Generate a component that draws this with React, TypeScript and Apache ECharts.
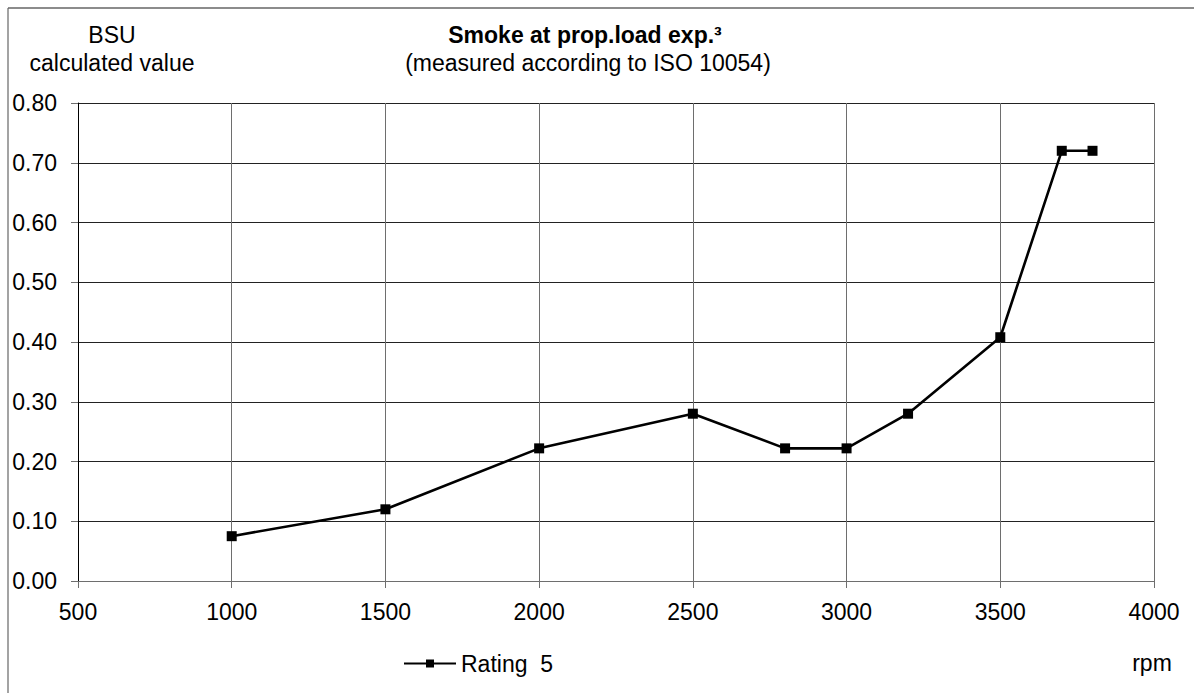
import React, { useEffect, useRef } from "react";
import * as echarts from "echarts";

const rpm = [1000, 1500, 2000, 2500, 2800, 3000, 3200, 3500, 3700, 3800];
const bsu = [0.075, 0.12, 0.222, 0.28, 0.222, 0.222, 0.28, 0.408, 0.72, 0.72];
const seriesName = "Rating  5";
const titleText = "Smoke at prop.load exp.³";
const subtitleText = "(measured according to ISO 10054)";
const yUnitLines = ["BSU", "calculated value"];
const xUnit = "rpm";

const FONT = '"Liberation Sans", Arial, sans-serif';
const FS = 23;
const GRID_COLOR = "#6e6e6e";

export default function App() {
  const ref = useRef<HTMLDivElement>(null);
  useEffect(() => {
    if (!ref.current) return;
    const chart = echarts.init(ref.current, undefined, { renderer: "svg" });
    const txt = (text: string, x: number, y: number, align: string, bold = false) => ({
      type: "text",
      x,
      y,
      style: {
        text,
        fill: "#000",
        font: `${bold ? "bold " : ""}${FS}px ${FONT}`,
        textAlign: align,
        textVerticalAlign: "middle",
      },
    });
    chart.setOption({
      animation: false,
      backgroundColor: "#fff",
      textStyle: { fontFamily: FONT },
      grid: { left: 78, right: 40, top: 103, bottom: 112, containLabel: false },
      xAxis: {
        type: "value",
        min: 500,
        max: 4000,
        interval: 500,
        axisLine: { show: true, lineStyle: { color: GRID_COLOR, width: 1 } },
        axisTick: { show: true, length: 7, inside: false, lineStyle: { color: GRID_COLOR } },
        axisLabel: {
          color: "#000",
          fontSize: FS,
          fontFamily: FONT,
          margin: 19,
          formatter: (v: number) => String(v),
        },
        splitLine: { show: true, lineStyle: { color: GRID_COLOR, width: 1 } },
      },
      yAxis: {
        type: "value",
        min: 0,
        max: 0.8,
        interval: 0.1,
        axisLine: { show: true, lineStyle: { color: "#000", width: 1 } },
        axisTick: { show: true, length: 7, inside: false, lineStyle: { color: GRID_COLOR } },
        axisLabel: {
          color: "#000",
          fontSize: FS,
          fontFamily: FONT,
          margin: 21,
          formatter: (v: number) => v.toFixed(2),
        },
        splitLine: { show: true, lineStyle: { color: "#222", width: 1 } },
      },
      legend: {
        left: 398,
        top: 647,
        itemWidth: 52,
        itemHeight: 10,
        textStyle: { color: "#000", fontSize: FS, fontFamily: FONT },
        data: [seriesName],
      },
      series: [
        {
          name: seriesName,
          type: "line",
          data: rpm.map((x, i) => [x, bsu[i]]),
          symbol: "rect",
          symbolSize: 10,
          lineStyle: { color: "#000", width: 2.6 },
          itemStyle: { color: "#000" },
        },
      ],
      graphic: [
        { type: "line", shape: { x1: 8, y1: 8, x2: 1194, y2: 8 }, style: { stroke: "#666", lineWidth: 1.5 } },
        { type: "line", shape: { x1: 8, y1: 8, x2: 8, y2: 693 }, style: { stroke: "#666", lineWidth: 1.2 } },
        txt(yUnitLines[0], 112, 35, "center"),
        txt(yUnitLines[1], 112, 63, "center"),
        txt(titleText, 585, 35, "center", true),
        txt(subtitleText, 588, 63, "center"),
        txt(xUnit, 1152, 663, "center"),
      ],
    });
    return () => chart.dispose();
  }, []);
  return (
    <div
      ref={ref}
      style={{ position: "absolute", left: 0, top: 0, width: 1194, height: 693, background: "#fff" }}
    />
  );
}
